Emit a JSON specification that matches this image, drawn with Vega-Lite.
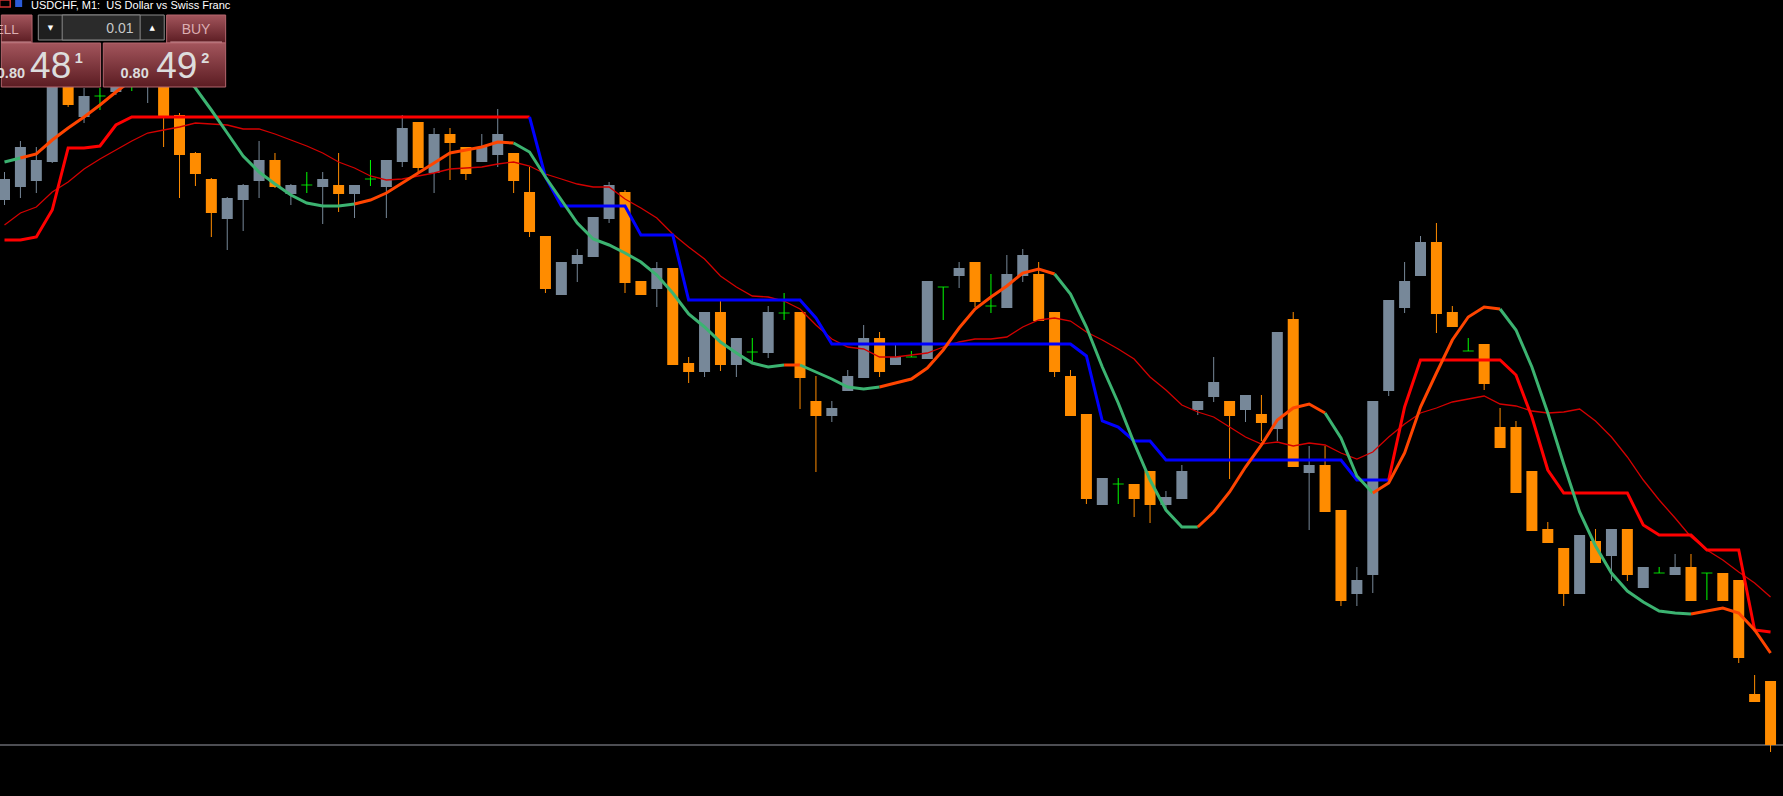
{
  "$schema": "https://vega.github.io/schema/vega-lite/v6.json",
  "width": 1783,
  "height": 796,
  "autosize": {"type": "none"},
  "padding": 0,
  "background": "#000000",
  "config": {"view": {"stroke": null}},
  "datasets": {
    "candles": [
      {"i":0,"o":0.81026,"h":0.81054,"l":0.81021,"c":0.81047,"t":"bull"},
      {"i":1,"o":0.81039,"h":0.81085,"l":0.81028,"c":0.81079,"t":"bull"},
      {"i":2,"o":0.81045,"h":0.81079,"l":0.81033,"c":0.81066,"t":"bull"},
      {"i":3,"o":0.81064,"h":0.81146,"l":0.81063,"c":0.81141,"t":"bull"},
      {"i":4,"o":0.81144,"h":0.81148,"l":0.81119,"c":0.81121,"t":"bear"},
      {"i":5,"o":0.81109,"h":0.81138,"l":0.81103,"c":0.81130,"t":"bull"},
      {"i":6,"o":0.81130,"h":0.81138,"l":0.81116,"c":0.81130,"t":"doji"},
      {"i":7,"o":0.81134,"h":0.81151,"l":0.81131,"c":0.81146,"t":"bull"},
      {"i":8,"o":0.81142,"h":0.81146,"l":0.81135,"c":0.81142,"t":"doji"},
      {"i":9,"o":0.81140,"h":0.81152,"l":0.81123,"c":0.81148,"t":"bull"},
      {"i":10,"o":0.81146,"h":0.81151,"l":0.81079,"c":0.81110,"t":"bear"},
      {"i":11,"o":0.81111,"h":0.81113,"l":0.81028,"c":0.81071,"t":"bear"},
      {"i":12,"o":0.81073,"h":0.81074,"l":0.81040,"c":0.81052,"t":"bear"},
      {"i":13,"o":0.81047,"h":0.81048,"l":0.80989,"c":0.81013,"t":"bear"},
      {"i":14,"o":0.81007,"h":0.81029,"l":0.80976,"c":0.81028,"t":"bull"},
      {"i":15,"o":0.81026,"h":0.81042,"l":0.80995,"c":0.81041,"t":"bull"},
      {"i":16,"o":0.81045,"h":0.81085,"l":0.81028,"c":0.81066,"t":"bull"},
      {"i":17,"o":0.81066,"h":0.81073,"l":0.81038,"c":0.81039,"t":"bear"},
      {"i":18,"o":0.81032,"h":0.81042,"l":0.81021,"c":0.81041,"t":"bull"},
      {"i":19,"o":0.81041,"h":0.81054,"l":0.81033,"c":0.81041,"t":"doji"},
      {"i":20,"o":0.81039,"h":0.81054,"l":0.81002,"c":0.81047,"t":"bull"},
      {"i":21,"o":0.81041,"h":0.81073,"l":0.81014,"c":0.81032,"t":"bear"},
      {"i":22,"o":0.81032,"h":0.81041,"l":0.81008,"c":0.81041,"t":"bull"},
      {"i":23,"o":0.81047,"h":0.81066,"l":0.81040,"c":0.81047,"t":"doji"},
      {"i":24,"o":0.81039,"h":0.81066,"l":0.81008,"c":0.81066,"t":"bull"},
      {"i":25,"o":0.81064,"h":0.81111,"l":0.81059,"c":0.81098,"t":"bull"},
      {"i":26,"o":0.81104,"h":0.81104,"l":0.81054,"c":0.81058,"t":"bear"},
      {"i":27,"o":0.81053,"h":0.81098,"l":0.81033,"c":0.81092,"t":"bull"},
      {"i":28,"o":0.81092,"h":0.81098,"l":0.81046,"c":0.81083,"t":"bear"},
      {"i":29,"o":0.81079,"h":0.81079,"l":0.81046,"c":0.81052,"t":"bear"},
      {"i":30,"o":0.81064,"h":0.81092,"l":0.81064,"c":0.81079,"t":"bull"},
      {"i":31,"o":0.81071,"h":0.81117,"l":0.81059,"c":0.81092,"t":"bull"},
      {"i":32,"o":0.81073,"h":0.81073,"l":0.81033,"c":0.81045,"t":"bear"},
      {"i":33,"o":0.81034,"h":0.81059,"l":0.80989,"c":0.80994,"t":"bear"},
      {"i":34,"o":0.80990,"h":0.80990,"l":0.80933,"c":0.80937,"t":"bear"},
      {"i":35,"o":0.80931,"h":0.80964,"l":0.80931,"c":0.80964,"t":"bull"},
      {"i":36,"o":0.80962,"h":0.80977,"l":0.80944,"c":0.80971,"t":"bull"},
      {"i":37,"o":0.80969,"h":0.81009,"l":0.80969,"c":0.81009,"t":"bull"},
      {"i":38,"o":0.81007,"h":0.81044,"l":0.81003,"c":0.81041,"t":"bull"},
      {"i":39,"o":0.81034,"h":0.81036,"l":0.80933,"c":0.80943,"t":"bear"},
      {"i":40,"o":0.80945,"h":0.80945,"l":0.80931,"c":0.80931,"t":"bear"},
      {"i":41,"o":0.80937,"h":0.80964,"l":0.80919,"c":0.80958,"t":"bull"},
      {"i":42,"o":0.80958,"h":0.80958,"l":0.80861,"c":0.80861,"t":"bear"},
      {"i":43,"o":0.80863,"h":0.80869,"l":0.80843,"c":0.80854,"t":"bear"},
      {"i":44,"o":0.80854,"h":0.80914,"l":0.80849,"c":0.80914,"t":"bull"},
      {"i":45,"o":0.80914,"h":0.80925,"l":0.80855,"c":0.80861,"t":"bear"},
      {"i":46,"o":0.80861,"h":0.80888,"l":0.80849,"c":0.80888,"t":"bull"},
      {"i":47,"o":0.80874,"h":0.80888,"l":0.80862,"c":0.80874,"t":"doji"},
      {"i":48,"o":0.80873,"h":0.80920,"l":0.80868,"c":0.80914,"t":"bull"},
      {"i":49,"o":0.80913,"h":0.80933,"l":0.80906,"c":0.80913,"t":"doji"},
      {"i":50,"o":0.80914,"h":0.80914,"l":0.80817,"c":0.80848,"t":"bear"},
      {"i":51,"o":0.80825,"h":0.80850,"l":0.80754,"c":0.80810,"t":"bear"},
      {"i":52,"o":0.80810,"h":0.80825,"l":0.80804,"c":0.80818,"t":"bull"},
      {"i":53,"o":0.80835,"h":0.80856,"l":0.80835,"c":0.80850,"t":"bull"},
      {"i":54,"o":0.80848,"h":0.80901,"l":0.80848,"c":0.80888,"t":"bull"},
      {"i":55,"o":0.80888,"h":0.80894,"l":0.80849,"c":0.80854,"t":"bear"},
      {"i":56,"o":0.80861,"h":0.80881,"l":0.80861,"c":0.80869,"t":"bull"},
      {"i":57,"o":0.80869,"h":0.80875,"l":0.80869,"c":0.80869,"t":"doji"},
      {"i":58,"o":0.80867,"h":0.80945,"l":0.80867,"c":0.80945,"t":"bull"},
      {"i":59,"o":0.80939,"h":0.80939,"l":0.80906,"c":0.80939,"t":"doji"},
      {"i":60,"o":0.80950,"h":0.80964,"l":0.80938,"c":0.80958,"t":"bull"},
      {"i":61,"o":0.80964,"h":0.80964,"l":0.80919,"c":0.80924,"t":"bear"},
      {"i":62,"o":0.80920,"h":0.80952,"l":0.80913,"c":0.80920,"t":"doji"},
      {"i":63,"o":0.80918,"h":0.80971,"l":0.80918,"c":0.80952,"t":"bull"},
      {"i":64,"o":0.80950,"h":0.80977,"l":0.80944,"c":0.80971,"t":"bull"},
      {"i":65,"o":0.80952,"h":0.80964,"l":0.80905,"c":0.80905,"t":"bear"},
      {"i":66,"o":0.80914,"h":0.80914,"l":0.80849,"c":0.80854,"t":"bear"},
      {"i":67,"o":0.80850,"h":0.80856,"l":0.80810,"c":0.80810,"t":"bear"},
      {"i":68,"o":0.80812,"h":0.80812,"l":0.80722,"c":0.80727,"t":"bear"},
      {"i":69,"o":0.80721,"h":0.80748,"l":0.80721,"c":0.80748,"t":"bull"},
      {"i":70,"o":0.80742,"h":0.80748,"l":0.80722,"c":0.80742,"t":"doji"},
      {"i":71,"o":0.80742,"h":0.80742,"l":0.80709,"c":0.80727,"t":"bear"},
      {"i":72,"o":0.80755,"h":0.80755,"l":0.80703,"c":0.80721,"t":"bear"},
      {"i":73,"o":0.80721,"h":0.80735,"l":0.80716,"c":0.80729,"t":"bull"},
      {"i":74,"o":0.80727,"h":0.80761,"l":0.80727,"c":0.80755,"t":"bull"},
      {"i":75,"o":0.80816,"h":0.80825,"l":0.80811,"c":0.80825,"t":"bull"},
      {"i":76,"o":0.80829,"h":0.80869,"l":0.80824,"c":0.80844,"t":"bull"},
      {"i":77,"o":0.80825,"h":0.80825,"l":0.80747,"c":0.80810,"t":"bear"},
      {"i":78,"o":0.80816,"h":0.80831,"l":0.80804,"c":0.80831,"t":"bull"},
      {"i":79,"o":0.80812,"h":0.80831,"l":0.80785,"c":0.80803,"t":"bear"},
      {"i":80,"o":0.80797,"h":0.80894,"l":0.80785,"c":0.80894,"t":"bull"},
      {"i":81,"o":0.80907,"h":0.80914,"l":0.80759,"c":0.80759,"t":"bear"},
      {"i":82,"o":0.80753,"h":0.80780,"l":0.80696,"c":0.80761,"t":"bull"},
      {"i":83,"o":0.80761,"h":0.80780,"l":0.80714,"c":0.80714,"t":"bear"},
      {"i":84,"o":0.80716,"h":0.80716,"l":0.80620,"c":0.80625,"t":"bear"},
      {"i":85,"o":0.80632,"h":0.80659,"l":0.80620,"c":0.80646,"t":"bull"},
      {"i":86,"o":0.80651,"h":0.80825,"l":0.80633,"c":0.80825,"t":"bull"},
      {"i":87,"o":0.80835,"h":0.80926,"l":0.80830,"c":0.80926,"t":"bull"},
      {"i":88,"o":0.80918,"h":0.80964,"l":0.80913,"c":0.80945,"t":"bull"},
      {"i":89,"o":0.80950,"h":0.80990,"l":0.80950,"c":0.80984,"t":"bull"},
      {"i":90,"o":0.80984,"h":0.81003,"l":0.80893,"c":0.80912,"t":"bear"},
      {"i":91,"o":0.80914,"h":0.80920,"l":0.80899,"c":0.80899,"t":"bear"},
      {"i":92,"o":0.80875,"h":0.80888,"l":0.80875,"c":0.80875,"t":"doji"},
      {"i":93,"o":0.80882,"h":0.80882,"l":0.80836,"c":0.80842,"t":"bear"},
      {"i":94,"o":0.80799,"h":0.80818,"l":0.80778,"c":0.80778,"t":"bear"},
      {"i":95,"o":0.80799,"h":0.80805,"l":0.80733,"c":0.80733,"t":"bear"},
      {"i":96,"o":0.80755,"h":0.80755,"l":0.80695,"c":0.80695,"t":"bear"},
      {"i":97,"o":0.80697,"h":0.80704,"l":0.80683,"c":0.80683,"t":"bear"},
      {"i":98,"o":0.80678,"h":0.80678,"l":0.80620,"c":0.80632,"t":"bear"},
      {"i":99,"o":0.80632,"h":0.80691,"l":0.80632,"c":0.80691,"t":"bull"},
      {"i":100,"o":0.80685,"h":0.80697,"l":0.80663,"c":0.80663,"t":"bear"},
      {"i":101,"o":0.80670,"h":0.80697,"l":0.80645,"c":0.80697,"t":"bull"},
      {"i":102,"o":0.80697,"h":0.80697,"l":0.80645,"c":0.80651,"t":"bear"},
      {"i":103,"o":0.80638,"h":0.80659,"l":0.80638,"c":0.80659,"t":"bull"},
      {"i":104,"o":0.80653,"h":0.80659,"l":0.80653,"c":0.80653,"t":"doji"},
      {"i":105,"o":0.80651,"h":0.80672,"l":0.80651,"c":0.80659,"t":"bull"},
      {"i":106,"o":0.80659,"h":0.80672,"l":0.80625,"c":0.80625,"t":"bear"},
      {"i":107,"o":0.80653,"h":0.80653,"l":0.80626,"c":0.80653,"t":"doji"},
      {"i":108,"o":0.80653,"h":0.80653,"l":0.80625,"c":0.80625,"t":"bear"},
      {"i":109,"o":0.80646,"h":0.80646,"l":0.80563,"c":0.80568,"t":"bear"},
      {"i":110,"o":0.80532,"h":0.80551,"l":0.80524,"c":0.80524,"t":"bear"},
      {"i":111,"o":0.80545,"h":0.80545,"l":0.80474,"c":0.80481,"t":"bear"}
    ],
    "ma": [
      {"i":0,"v":0.81001},{"i":1,"v":0.81013},{"i":2,"v":0.81019},{"i":3,"v":0.81034},{"i":4,"v":0.81044},
      {"i":5,"v":0.81057},{"i":6,"v":0.81067},{"i":7,"v":0.81076},{"i":8,"v":0.81085},{"i":9,"v":0.81093},
      {"i":10,"v":0.81096},{"i":11,"v":0.81099},{"i":12,"v":0.81103},{"i":13,"v":0.81102},{"i":14,"v":0.81101},
      {"i":15,"v":0.81097},{"i":16,"v":0.81097},{"i":17,"v":0.81092},{"i":18,"v":0.81086},{"i":19,"v":0.81080},
      {"i":20,"v":0.81073},{"i":21,"v":0.81064},{"i":22,"v":0.81058},{"i":23,"v":0.81050},{"i":24,"v":0.81046},
      {"i":25,"v":0.81047},{"i":26,"v":0.81050},{"i":27,"v":0.81053},{"i":28,"v":0.81057},{"i":29,"v":0.81058},
      {"i":30,"v":0.81059},{"i":31,"v":0.81062},{"i":32,"v":0.81064},{"i":33,"v":0.81060},{"i":34,"v":0.81052},
      {"i":35,"v":0.81047},{"i":36,"v":0.81042},{"i":37,"v":0.81039},{"i":38,"v":0.81039},{"i":39,"v":0.81027},
      {"i":40,"v":0.81018},{"i":41,"v":0.81008},{"i":42,"v":0.80992},{"i":43,"v":0.80979},{"i":44,"v":0.80967},
      {"i":45,"v":0.80950},{"i":46,"v":0.80939},{"i":47,"v":0.80930},{"i":48,"v":0.80929},{"i":49,"v":0.80925},
      {"i":50,"v":0.80917},{"i":51,"v":0.80901},{"i":52,"v":0.80887},{"i":53,"v":0.80879},{"i":54,"v":0.80877},
      {"i":55,"v":0.80869},{"i":56,"v":0.80869},{"i":57,"v":0.80871},{"i":58,"v":0.80873},{"i":59,"v":0.80879},
      {"i":60,"v":0.80884},{"i":61,"v":0.80887},{"i":62,"v":0.80887},{"i":63,"v":0.80889},{"i":64,"v":0.80899},
      {"i":65,"v":0.80906},{"i":66,"v":0.80908},{"i":67,"v":0.80905},{"i":68,"v":0.80894},{"i":69,"v":0.80886},
      {"i":70,"v":0.80877},{"i":71,"v":0.80867},{"i":72,"v":0.80849},{"i":73,"v":0.80836},{"i":74,"v":0.80821},
      {"i":75,"v":0.80814},{"i":76,"v":0.80809},{"i":77,"v":0.80799},{"i":78,"v":0.80789},{"i":79,"v":0.80782},
      {"i":80,"v":0.80784},{"i":81,"v":0.80780},{"i":82,"v":0.80783},{"i":83,"v":0.80781},{"i":84,"v":0.80773},
      {"i":85,"v":0.80767},{"i":86,"v":0.80774},{"i":87,"v":0.80789},{"i":88,"v":0.80802},{"i":89,"v":0.80813},
      {"i":90,"v":0.80818},{"i":91,"v":0.80824},{"i":92,"v":0.80827},{"i":93,"v":0.80830},{"i":94,"v":0.80822},
      {"i":95,"v":0.80820},{"i":96,"v":0.80815},{"i":97,"v":0.80813},{"i":98,"v":0.80814},{"i":99,"v":0.80817},
      {"i":100,"v":0.80805},{"i":101,"v":0.80789},{"i":102,"v":0.80769},{"i":103,"v":0.80746},{"i":104,"v":0.80726},
      {"i":105,"v":0.80708},{"i":106,"v":0.80689},{"i":107,"v":0.80676},{"i":108,"v":0.80666},{"i":109,"v":0.80654},
      {"i":110,"v":0.80643},{"i":111,"v":0.80629}
    ],
    "hma": [
      {"seg":1,"col":"green","i":0,"v":0.81064},{"seg":1,"col":"green","i":1,"v":0.81068},
      {"seg":2,"col":"orange","i":1,"v":0.81068},{"seg":2,"col":"orange","i":2,"v":0.81072},{"seg":2,"col":"orange","i":3,"v":0.81086},
      {"seg":2,"col":"orange","i":4,"v":0.81098},{"seg":2,"col":"orange","i":5,"v":0.81109},{"seg":2,"col":"orange","i":6,"v":0.81121},
      {"seg":2,"col":"orange","i":7,"v":0.81134},{"seg":2,"col":"orange","i":8,"v":0.81146},{"seg":2,"col":"orange","i":9,"v":0.81154},
      {"seg":2,"col":"orange","i":10,"v":0.81159},
      {"seg":3,"col":"green","i":10,"v":0.81159},{"seg":3,"col":"green","i":11,"v":0.81154},{"seg":3,"col":"green","i":12,"v":0.81138},
      {"seg":3,"col":"green","i":13,"v":0.81116},{"seg":3,"col":"green","i":14,"v":0.81093},{"seg":3,"col":"green","i":15,"v":0.81070},
      {"seg":3,"col":"green","i":16,"v":0.81054},{"seg":3,"col":"green","i":17,"v":0.81042},{"seg":3,"col":"green","i":18,"v":0.81031},
      {"seg":3,"col":"green","i":19,"v":0.81023},{"seg":3,"col":"green","i":20,"v":0.81020},{"seg":3,"col":"green","i":21,"v":0.81020},
      {"seg":3,"col":"green","i":22,"v":0.81022},
      {"seg":4,"col":"orange","i":22,"v":0.81022},{"seg":4,"col":"orange","i":23,"v":0.81026},{"seg":4,"col":"orange","i":24,"v":0.81033},
      {"seg":4,"col":"orange","i":25,"v":0.81043},{"seg":4,"col":"orange","i":26,"v":0.81053},{"seg":4,"col":"orange","i":27,"v":0.81063},
      {"seg":4,"col":"orange","i":28,"v":0.81073},{"seg":4,"col":"orange","i":29,"v":0.81076},{"seg":4,"col":"orange","i":30,"v":0.81079},
      {"seg":4,"col":"orange","i":31,"v":0.81084},{"seg":4,"col":"orange","i":32,"v":0.81083},
      {"seg":5,"col":"green","i":32,"v":0.81083},{"seg":5,"col":"green","i":33,"v":0.81074},{"seg":5,"col":"green","i":34,"v":0.81049},
      {"seg":5,"col":"green","i":35,"v":0.81026},{"seg":5,"col":"green","i":36,"v":0.81003},{"seg":5,"col":"green","i":37,"v":0.80987},
      {"seg":5,"col":"green","i":38,"v":0.80981},{"seg":5,"col":"green","i":39,"v":0.80973},{"seg":5,"col":"green","i":40,"v":0.80964},
      {"seg":5,"col":"green","i":41,"v":0.80951},{"seg":5,"col":"green","i":42,"v":0.80933},{"seg":5,"col":"green","i":43,"v":0.80912},
      {"seg":5,"col":"green","i":44,"v":0.80899},{"seg":5,"col":"green","i":45,"v":0.80884},{"seg":5,"col":"green","i":46,"v":0.80873},
      {"seg":5,"col":"green","i":47,"v":0.80863},{"seg":5,"col":"green","i":48,"v":0.80859},{"seg":5,"col":"green","i":49,"v":0.80861},
      {"seg":6,"col":"orange","i":49,"v":0.80861},{"seg":6,"col":"orange","i":50,"v":0.80861},
      {"seg":7,"col":"green","i":50,"v":0.80861},{"seg":7,"col":"green","i":51,"v":0.80854},{"seg":7,"col":"green","i":52,"v":0.80847},
      {"seg":7,"col":"green","i":53,"v":0.80839},{"seg":7,"col":"green","i":54,"v":0.80837},{"seg":7,"col":"green","i":55,"v":0.80839},
      {"seg":8,"col":"orange","i":55,"v":0.80839},{"seg":8,"col":"orange","i":56,"v":0.80843},{"seg":8,"col":"orange","i":57,"v":0.80847},
      {"seg":8,"col":"orange","i":58,"v":0.80858},{"seg":8,"col":"orange","i":59,"v":0.80876},{"seg":8,"col":"orange","i":60,"v":0.80898},
      {"seg":8,"col":"orange","i":61,"v":0.80917},{"seg":8,"col":"orange","i":62,"v":0.80929},{"seg":8,"col":"orange","i":63,"v":0.80940},
      {"seg":8,"col":"orange","i":64,"v":0.80953},{"seg":8,"col":"orange","i":65,"v":0.80957},{"seg":8,"col":"orange","i":66,"v":0.80952},
      {"seg":9,"col":"green","i":66,"v":0.80952},{"seg":9,"col":"green","i":67,"v":0.80932},{"seg":9,"col":"green","i":68,"v":0.80899},
      {"seg":9,"col":"green","i":69,"v":0.80859},{"seg":9,"col":"green","i":70,"v":0.80823},{"seg":9,"col":"green","i":71,"v":0.80783},
      {"seg":9,"col":"green","i":72,"v":0.80746},{"seg":9,"col":"green","i":73,"v":0.80716},{"seg":9,"col":"green","i":74,"v":0.80699},
      {"seg":9,"col":"green","i":75,"v":0.80699},
      {"seg":10,"col":"orange","i":75,"v":0.80699},{"seg":10,"col":"orange","i":76,"v":0.80714},{"seg":10,"col":"orange","i":77,"v":0.80734},
      {"seg":10,"col":"orange","i":78,"v":0.80759},{"seg":10,"col":"orange","i":79,"v":0.80781},{"seg":10,"col":"orange","i":80,"v":0.80806},
      {"seg":10,"col":"orange","i":81,"v":0.80818},{"seg":10,"col":"orange","i":82,"v":0.80822},{"seg":10,"col":"orange","i":83,"v":0.80813},
      {"seg":11,"col":"green","i":83,"v":0.80813},{"seg":11,"col":"green","i":84,"v":0.80788},{"seg":11,"col":"green","i":85,"v":0.80750},
      {"seg":11,"col":"green","i":86,"v":0.80733},
      {"seg":12,"col":"orange","i":86,"v":0.80733},{"seg":12,"col":"orange","i":87,"v":0.80743},{"seg":12,"col":"orange","i":88,"v":0.80773},
      {"seg":12,"col":"orange","i":89,"v":0.80819},{"seg":12,"col":"orange","i":90,"v":0.80853},{"seg":12,"col":"orange","i":91,"v":0.80886},
      {"seg":12,"col":"orange","i":92,"v":0.80909},{"seg":12,"col":"orange","i":93,"v":0.80919},{"seg":12,"col":"orange","i":94,"v":0.80917},
      {"seg":13,"col":"green","i":94,"v":0.80917},{"seg":13,"col":"green","i":95,"v":0.80896},{"seg":13,"col":"green","i":96,"v":0.80859},
      {"seg":13,"col":"green","i":97,"v":0.80813},{"seg":13,"col":"green","i":98,"v":0.80762},{"seg":13,"col":"green","i":99,"v":0.80714},
      {"seg":13,"col":"green","i":100,"v":0.80680},{"seg":13,"col":"green","i":101,"v":0.80653},{"seg":13,"col":"green","i":102,"v":0.80635},
      {"seg":13,"col":"green","i":103,"v":0.80624},{"seg":13,"col":"green","i":104,"v":0.80615},{"seg":13,"col":"green","i":105,"v":0.80613},
      {"seg":13,"col":"green","i":106,"v":0.80612},
      {"seg":14,"col":"orange","i":106,"v":0.80612},{"seg":14,"col":"orange","i":107,"v":0.80615},{"seg":14,"col":"orange","i":108,"v":0.80618},
      {"seg":14,"col":"orange","i":109,"v":0.80613},{"seg":14,"col":"orange","i":110,"v":0.80596},{"seg":14,"col":"orange","i":111,"v":0.80573}
    ],
    "stop": [
      {"seg":1,"col":"red","i":0,"v":0.80986},{"seg":1,"col":"red","i":1,"v":0.80986},{"seg":1,"col":"red","i":2,"v":0.80989},
      {"seg":1,"col":"red","i":3,"v":0.81016},{"seg":1,"col":"red","i":4,"v":0.81078},{"seg":1,"col":"red","i":5,"v":0.81078},
      {"seg":1,"col":"red","i":6,"v":0.81080},{"seg":1,"col":"red","i":7,"v":0.81101},{"seg":1,"col":"red","i":8,"v":0.81109},
      {"seg":1,"col":"red","i":33,"v":0.81109},
      {"seg":2,"col":"blue","i":33,"v":0.81109},{"seg":2,"col":"blue","i":34,"v":0.81049},{"seg":2,"col":"blue","i":35,"v":0.81020},
      {"seg":2,"col":"blue","i":39,"v":0.81020},{"seg":2,"col":"blue","i":40,"v":0.80991},{"seg":2,"col":"blue","i":42,"v":0.80991},
      {"seg":2,"col":"blue","i":43,"v":0.80926},{"seg":2,"col":"blue","i":50,"v":0.80926},{"seg":2,"col":"blue","i":51,"v":0.80908},
      {"seg":2,"col":"blue","i":52,"v":0.80882},{"seg":2,"col":"blue","i":67,"v":0.80882},{"seg":2,"col":"blue","i":68,"v":0.80870},
      {"seg":2,"col":"blue","i":69,"v":0.80805},{"seg":2,"col":"blue","i":70,"v":0.80799},{"seg":2,"col":"blue","i":71,"v":0.80785},
      {"seg":2,"col":"blue","i":72,"v":0.80785},{"seg":2,"col":"blue","i":73,"v":0.80766},{"seg":2,"col":"blue","i":84,"v":0.80766},
      {"seg":2,"col":"blue","i":85,"v":0.80746},{"seg":2,"col":"blue","i":87,"v":0.80746},
      {"seg":3,"col":"red","i":87,"v":0.80746},{"seg":3,"col":"red","i":88,"v":0.80819},{"seg":3,"col":"red","i":89,"v":0.80866},
      {"seg":3,"col":"red","i":94,"v":0.80866},{"seg":3,"col":"red","i":95,"v":0.80851},{"seg":3,"col":"red","i":96,"v":0.80809},
      {"seg":3,"col":"red","i":97,"v":0.80756},{"seg":3,"col":"red","i":98,"v":0.80733},{"seg":3,"col":"red","i":102,"v":0.80733},
      {"seg":3,"col":"red","i":103,"v":0.80701},{"seg":3,"col":"red","i":104,"v":0.80691},{"seg":3,"col":"red","i":106,"v":0.80691},
      {"seg":3,"col":"red","i":107,"v":0.80676},{"seg":3,"col":"red","i":109,"v":0.80676},{"seg":3,"col":"red","i":110,"v":0.80596},
      {"seg":3,"col":"red","i":111,"v":0.80594}
    ],
    "bid": [{"p": 0.80481}],
    "panel": [
      {"k":"box","i":-0.2,"i2":1.73,"p":0.81211,"p2":0.81183},
      {"k":"box","i":-0.2,"i2":6.04,"p":0.81183,"p2":0.81139},
      {"k":"box","i":10.19,"i2":13.9,"p":0.81211,"p2":0.81183},
      {"k":"box","i":6.21,"i2":13.9,"p":0.81183,"p2":0.81139},
      {"k":"lot","i":2.125,"i2":10.04,"p":0.81211,"p2":0.81186},
      {"k":"fld","i":3.625,"i2":8.525,"p":0.81211,"p2":0.81186},
      {"k":"ul","i":-0.2,"i2":1.67,"p":0.811845,"p2":0.811835},
      {"k":"ul","i":10.42,"i2":13.67,"p":0.811845,"p2":0.811835},
      {"k":"iconR","i":-0.3,"i2":0.36,"p":0.81226,"p2":0.81219},
      {"k":"iconB","i":0.67,"i2":1.11,"p":0.81226,"p2":0.81219}
    ],
    "labels": [
      {"k":"title","i":1.669,"p":0.812175,"s":"USDCHF, M1:\u00a0 US Dollar vs Swiss Franc"},
      {"k":"sell","i":0.9,"p":0.81192,"s":"SELL"},
      {"k":"buy","i":12.04,"p":0.81192,"s":"BUY"},
      {"k":"lot","i":8.11,"p":0.81193,"s":"0.01"},
      {"k":"arrow","i":2.89,"p":0.811983,"s":"▼"},
      {"k":"arrow","i":9.29,"p":0.811983,"s":"▲"},
      {"k":"smallR","i":1.29,"p":0.81148,"s":"0.80"},
      {"k":"big","i":1.61,"p":0.811485,"s":"48"},
      {"k":"small","i":4.42,"p":0.81163,"s":"1"},
      {"k":"small","i":7.29,"p":0.81148,"s":"0.80"},
      {"k":"big","i":9.54,"p":0.811485,"s":"49"},
      {"k":"small","i":12.36,"p":0.81163,"s":"2"}
    ]
  },
  "layer": [
    {
      "data": {"name": "bid"},
      "mark": {"type": "rule", "color": "#9a9ca6", "strokeWidth": 1},
      "encoding": {
        "y": {"field": "p", "type": "quantitative", "scale": {"domain": [0.8043, 0.81226], "nice": false, "zero": false}, "axis": null}
      }
    },
    {
      "data": {"name": "candles"},
      "mark": {"type": "rule", "strokeWidth": 1},
      "encoding": {
        "x": {"field": "i", "type": "quantitative", "scale": {"domain": [0.03125, 111.46875], "nice": false, "zero": false}, "axis": null},
        "y": {"field": "l", "type": "quantitative", "scale": {"domain": [0.8043, 0.81226], "nice": false, "zero": false}, "axis": null},
        "y2": {"field": "h"},
        "color": {"field": "t", "type": "nominal", "legend": null, "scale": {"domain": ["bull","bear","doji","green","orange","red","blue"], "range": ["#778899","#ff8c00","#00ff00","#3cb371","#ff4500","#ff0000","#0000ff"]}}
      }
    },
    {
      "data": {"name": "candles"},
      "transform": [{"filter": "datum.t != 'doji'"}],
      "mark": {"type": "bar", "size": 11, "orient": "vertical"},
      "encoding": {
        "x": {"field": "i", "type": "quantitative", "scale": {"domain": [0.03125, 111.46875], "nice": false, "zero": false}, "axis": null},
        "y": {"field": "o", "type": "quantitative", "scale": {"domain": [0.8043, 0.81226], "nice": false, "zero": false}, "axis": null},
        "y2": {"field": "c"},
        "color": {"field": "t", "type": "nominal", "legend": null, "scale": {"domain": ["bull","bear","doji","green","orange","red","blue"], "range": ["#778899","#ff8c00","#00ff00","#3cb371","#ff4500","#ff0000","#0000ff"]}}
      }
    },
    {
      "data": {"name": "candles"},
      "transform": [{"filter": "datum.t == 'doji'"}],
      "mark": {"type": "tick", "orient": "horizontal", "size": 11, "thickness": 1.2},
      "encoding": {
        "x": {"field": "i", "type": "quantitative", "scale": {"domain": [0.03125, 111.46875], "nice": false, "zero": false}, "axis": null},
        "y": {"field": "o", "type": "quantitative", "scale": {"domain": [0.8043, 0.81226], "nice": false, "zero": false}, "axis": null},
        "color": {"field": "t", "type": "nominal", "legend": null, "scale": {"domain": ["bull","bear","doji","green","orange","red","blue"], "range": ["#778899","#ff8c00","#00ff00","#3cb371","#ff4500","#ff0000","#0000ff"]}}
      }
    },
    {
      "data": {"name": "ma"},
      "mark": {"type": "line", "color": "#d40000", "strokeWidth": 1.3},
      "encoding": {
        "x": {"field": "i", "type": "quantitative", "scale": {"domain": [0.03125, 111.46875], "nice": false, "zero": false}, "axis": null},
        "y": {"field": "v", "type": "quantitative", "scale": {"domain": [0.8043, 0.81226], "nice": false, "zero": false}, "axis": null}
      }
    },
    {
      "data": {"name": "stop"},
      "mark": {"type": "line", "strokeWidth": 3},
      "encoding": {
        "x": {"field": "i", "type": "quantitative", "scale": {"domain": [0.03125, 111.46875], "nice": false, "zero": false}, "axis": null},
        "y": {"field": "v", "type": "quantitative", "scale": {"domain": [0.8043, 0.81226], "nice": false, "zero": false}, "axis": null},
        "detail": {"field": "seg", "type": "nominal"},
        "color": {"field": "col", "type": "nominal", "legend": null, "scale": {"domain": ["bull","bear","doji","green","orange","red","blue"], "range": ["#778899","#ff8c00","#00ff00","#3cb371","#ff4500","#ff0000","#0000ff"]}}
      }
    },
    {
      "data": {"name": "hma"},
      "mark": {"type": "line", "strokeWidth": 3},
      "encoding": {
        "x": {"field": "i", "type": "quantitative", "scale": {"domain": [0.03125, 111.46875], "nice": false, "zero": false}, "axis": null},
        "y": {"field": "v", "type": "quantitative", "scale": {"domain": [0.8043, 0.81226], "nice": false, "zero": false}, "axis": null},
        "detail": {"field": "seg", "type": "nominal"},
        "color": {"field": "col", "type": "nominal", "legend": null, "scale": {"domain": ["bull","bear","doji","green","orange","red","blue"], "range": ["#778899","#ff8c00","#00ff00","#3cb371","#ff4500","#ff0000","#0000ff"]}}
      }
    },
    {
      "data": {"name": "panel"},
      "transform": [{"filter": "datum.k == 'box'"}],
      "mark": {"type": "rect", "stroke": "#b4666e", "strokeWidth": 1,
        "fill": {"gradient": "linear", "x1": 0, "y1": 0, "x2": 0, "y2": 1, "stops": [{"offset": 0, "color": "#a3555c"}, {"offset": 1, "color": "#5b1c22"}]}},
      "encoding": {
        "x": {"field": "i", "type": "quantitative", "scale": {"domain": [0.03125, 111.46875], "nice": false, "zero": false}, "axis": null},
        "x2": {"field": "i2"},
        "y": {"field": "p", "type": "quantitative", "scale": {"domain": [0.8043, 0.81226], "nice": false, "zero": false}, "axis": null},
        "y2": {"field": "p2"}
      }
    },
    {
      "data": {"name": "panel"},
      "transform": [{"filter": "datum.k == 'lot'"}],
      "mark": {"type": "rect", "fill": "#1f1f1f", "stroke": "#8a8a8a", "strokeWidth": 1},
      "encoding": {
        "x": {"field": "i", "type": "quantitative", "scale": {"domain": [0.03125, 111.46875], "nice": false, "zero": false}, "axis": null},
        "x2": {"field": "i2"},
        "y": {"field": "p", "type": "quantitative", "scale": {"domain": [0.8043, 0.81226], "nice": false, "zero": false}, "axis": null},
        "y2": {"field": "p2"}
      }
    },
    {
      "data": {"name": "panel"},
      "transform": [{"filter": "datum.k == 'fld'"}],
      "mark": {"type": "rect", "fill": "#2b2b2b", "stroke": "#8a8a8a", "strokeWidth": 1},
      "encoding": {
        "x": {"field": "i", "type": "quantitative", "scale": {"domain": [0.03125, 111.46875], "nice": false, "zero": false}, "axis": null},
        "x2": {"field": "i2"},
        "y": {"field": "p", "type": "quantitative", "scale": {"domain": [0.8043, 0.81226], "nice": false, "zero": false}, "axis": null},
        "y2": {"field": "p2"}
      }
    },
    {
      "data": {"name": "panel"},
      "transform": [{"filter": "datum.k == 'ul'"}],
      "mark": {"type": "rect", "fill": "#d0949a"},
      "encoding": {
        "x": {"field": "i", "type": "quantitative", "scale": {"domain": [0.03125, 111.46875], "nice": false, "zero": false}, "axis": null},
        "x2": {"field": "i2"},
        "y": {"field": "p", "type": "quantitative", "scale": {"domain": [0.8043, 0.81226], "nice": false, "zero": false}, "axis": null},
        "y2": {"field": "p2"}
      }
    },
    {
      "data": {"name": "panel"},
      "transform": [{"filter": "datum.k == 'iconR'"}],
      "mark": {"type": "rect", "fill": "#000000", "stroke": "#d03030", "strokeWidth": 1.5},
      "encoding": {
        "x": {"field": "i", "type": "quantitative", "scale": {"domain": [0.03125, 111.46875], "nice": false, "zero": false}, "axis": null},
        "x2": {"field": "i2"},
        "y": {"field": "p", "type": "quantitative", "scale": {"domain": [0.8043, 0.81226], "nice": false, "zero": false}, "axis": null},
        "y2": {"field": "p2"}
      }
    },
    {
      "data": {"name": "panel"},
      "transform": [{"filter": "datum.k == 'iconB'"}],
      "mark": {"type": "rect", "fill": "#2a5bd8"},
      "encoding": {
        "x": {"field": "i", "type": "quantitative", "scale": {"domain": [0.03125, 111.46875], "nice": false, "zero": false}, "axis": null},
        "x2": {"field": "i2"},
        "y": {"field": "p", "type": "quantitative", "scale": {"domain": [0.8043, 0.81226], "nice": false, "zero": false}, "axis": null},
        "y2": {"field": "p2"}
      }
    },
    {
      "data": {"name": "labels"},
      "transform": [{"filter": "datum.k == 'title'"}],
      "mark": {"type": "text", "align": "left", "baseline": "alphabetic", "font": "Liberation Sans", "fontSize": 11, "color": "#ffffff"},
      "encoding": {
        "x": {"field": "i", "type": "quantitative", "scale": {"domain": [0.03125, 111.46875], "nice": false, "zero": false}, "axis": null},
        "y": {"field": "p", "type": "quantitative", "scale": {"domain": [0.8043, 0.81226], "nice": false, "zero": false}, "axis": null},
        "text": {"field": "s"}
      }
    },
    {
      "data": {"name": "labels"},
      "transform": [{"filter": "datum.k == 'sell'"}],
      "mark": {"type": "text", "align": "right", "baseline": "alphabetic", "font": "Liberation Sans", "fontSize": 13.5, "color": "#dcaeb2"},
      "encoding": {
        "x": {"field": "i", "type": "quantitative", "scale": {"domain": [0.03125, 111.46875], "nice": false, "zero": false}, "axis": null},
        "y": {"field": "p", "type": "quantitative", "scale": {"domain": [0.8043, 0.81226], "nice": false, "zero": false}, "axis": null},
        "text": {"field": "s"}
      }
    },
    {
      "data": {"name": "labels"},
      "transform": [{"filter": "datum.k == 'buy'"}],
      "mark": {"type": "text", "align": "center", "baseline": "alphabetic", "font": "Liberation Sans", "fontSize": 14, "color": "#dcaeb2"},
      "encoding": {
        "x": {"field": "i", "type": "quantitative", "scale": {"domain": [0.03125, 111.46875], "nice": false, "zero": false}, "axis": null},
        "y": {"field": "p", "type": "quantitative", "scale": {"domain": [0.8043, 0.81226], "nice": false, "zero": false}, "axis": null},
        "text": {"field": "s"}
      }
    },
    {
      "data": {"name": "labels"},
      "transform": [{"filter": "datum.k == 'lot'"}],
      "mark": {"type": "text", "align": "right", "baseline": "alphabetic", "font": "Liberation Sans", "fontSize": 14, "color": "#c8c8c8"},
      "encoding": {
        "x": {"field": "i", "type": "quantitative", "scale": {"domain": [0.03125, 111.46875], "nice": false, "zero": false}, "axis": null},
        "y": {"field": "p", "type": "quantitative", "scale": {"domain": [0.8043, 0.81226], "nice": false, "zero": false}, "axis": null},
        "text": {"field": "s"}
      }
    },
    {
      "data": {"name": "labels"},
      "transform": [{"filter": "datum.k == 'arrow'"}],
      "mark": {"type": "text", "align": "center", "baseline": "middle", "font": "DejaVu Sans", "fontSize": 7, "color": "#ffffff"},
      "encoding": {
        "x": {"field": "i", "type": "quantitative", "scale": {"domain": [0.03125, 111.46875], "nice": false, "zero": false}, "axis": null},
        "y": {"field": "p", "type": "quantitative", "scale": {"domain": [0.8043, 0.81226], "nice": false, "zero": false}, "axis": null},
        "text": {"field": "s"}
      }
    },
    {
      "data": {"name": "labels"},
      "transform": [{"filter": "datum.k == 'smallR'"}],
      "mark": {"type": "text", "align": "right", "baseline": "alphabetic", "font": "Liberation Sans", "fontSize": 14.5, "fontWeight": "bold", "color": "#dddddd"},
      "encoding": {
        "x": {"field": "i", "type": "quantitative", "scale": {"domain": [0.03125, 111.46875], "nice": false, "zero": false}, "axis": null},
        "y": {"field": "p", "type": "quantitative", "scale": {"domain": [0.8043, 0.81226], "nice": false, "zero": false}, "axis": null},
        "text": {"field": "s"}
      }
    },
    {
      "data": {"name": "labels"},
      "transform": [{"filter": "datum.k == 'small'"}],
      "mark": {"type": "text", "align": "left", "baseline": "alphabetic", "font": "Liberation Sans", "fontSize": 14.5, "fontWeight": "bold", "color": "#dddddd"},
      "encoding": {
        "x": {"field": "i", "type": "quantitative", "scale": {"domain": [0.03125, 111.46875], "nice": false, "zero": false}, "axis": null},
        "y": {"field": "p", "type": "quantitative", "scale": {"domain": [0.8043, 0.81226], "nice": false, "zero": false}, "axis": null},
        "text": {"field": "s"}
      }
    },
    {
      "data": {"name": "labels"},
      "transform": [{"filter": "datum.k == 'big'"}],
      "mark": {"type": "text", "align": "left", "baseline": "alphabetic", "font": "Liberation Sans", "fontSize": 37, "color": "#dddddd"},
      "encoding": {
        "x": {"field": "i", "type": "quantitative", "scale": {"domain": [0.03125, 111.46875], "nice": false, "zero": false}, "axis": null},
        "y": {"field": "p", "type": "quantitative", "scale": {"domain": [0.8043, 0.81226], "nice": false, "zero": false}, "axis": null},
        "text": {"field": "s"}
      }
    }
  ]
}
